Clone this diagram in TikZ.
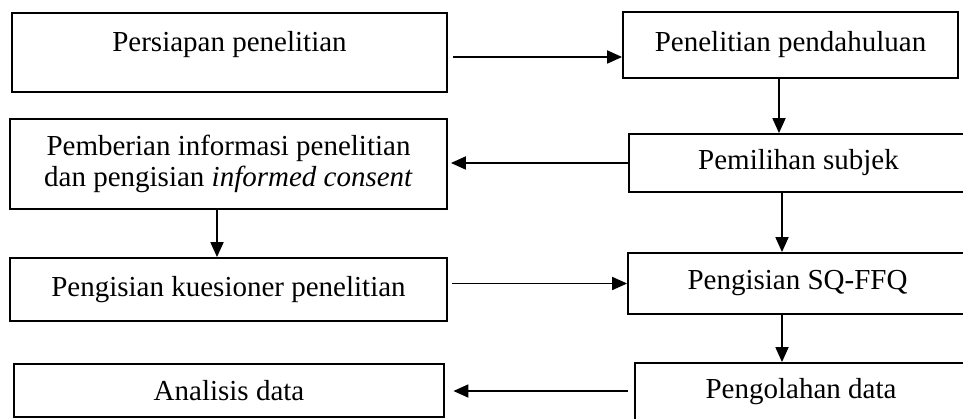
\documentclass[tikz,border=0pt]{standalone}
\usepackage{fontspec}
\setmainfont{Liberation Serif}
\usetikzlibrary{arrows.meta}

\begin{document}
\begin{tikzpicture}[x=1pt, y=-1pt,
    box/.style={draw, line width=1.8pt, rectangle, inner sep=0pt, align=center,
      font=\fontsize{29}{31}\selectfont},
    arr/.style={line width=1.8pt, -{Triangle[length=15pt, width=13pt]}}]
  \path[use as bounding box, clip] (0,0) rectangle (963,419);

  % Boxes
  \node[box, minimum width=435pt, text height=39pt, text depth=40pt] (prep) at (229.5,52.5) {Persiapan penelitian};
  \node[box, minimum width=335pt, minimum height=66pt] (pend) at (790.5,45) {Penelitian pendahuluan};
  \node[box, minimum width=437pt, minimum height=90pt] (info) at (228.5,164) {Pemberian informasi penelitian\\dan pengisian \textit{informed consent}};
  \node[box, minimum width=339pt, minimum height=58pt] (pilih) at (798.5,163) {Pemilihan subjek};
  \node[box, minimum width=437pt, minimum height=63pt] (kues) at (228.5,289.5) {Pengisian kuesioner penelitian};
  \node[box, minimum width=339pt, minimum height=61pt] (sqffq) at (797.5,283.5) {Pengisian SQ-FFQ};
  \node[box, minimum width=430pt, minimum height=53pt] (anal) at (229,390.5) {Analisis data};
  \node[box, minimum width=332pt, minimum height=58pt] (olah) at (801,392) {Pengolahan data};

  % Arrows
  \draw[arr, shorten <=5pt] ([yshift=-4.5pt]prep.east) -- ([yshift=-4.5pt]prep.east -| pend.west);
  \draw[arr] ([xshift=-11.5pt]pend.south) -- ([xshift=-11.5pt]pend.south |- pilih.north);
  \draw[arr, shorten >=3pt] (pilih.west) -- (pilih.west -| info.east);
  \draw[arr] ([xshift=-11.5pt]info.south) -- ([xshift=-11.5pt]info.south |- kues.north);
  \draw[arr, shorten <=4pt] (sqffq.west -| kues.east) -- (sqffq.west);
  \draw[arr] ([xshift=-16.5pt]pilih.south) -- ([xshift=-16.5pt]pilih.south |- sqffq.north);
  \draw[arr] ([xshift=-15.5pt]sqffq.south) -- ([xshift=-15.5pt]sqffq.south |- olah.north);
  \draw[arr, shorten <=6pt, shorten >=8.5pt] ([yshift=1pt]olah.west) -- ([yshift=1pt]olah.west -| anal.east);
\end{tikzpicture}
\end{document}
